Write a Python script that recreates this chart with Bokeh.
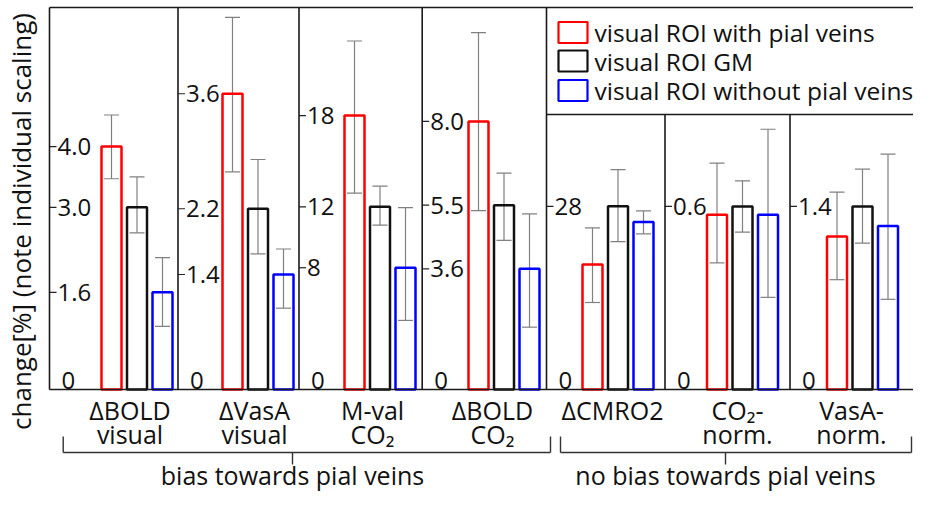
import numpy as np
from bokeh.plotting import figure
from bokeh.models import Range1d, ColumnDataSource
from bokeh.core.properties import value
from bokeh.embed import file_html
from bokeh.resources import INLINE

# ---------------- data ----------------
categories = ["ΔBOLD\nvisual", "ΔVasA\nvisual", "M-val\nCO₂", "ΔBOLD\nCO₂",
              "ΔCMRO2", "CO₂-\nnorm.", "VasA-\nnorm."]
group_labels = ["bias towards pial veins", "no bias towards pial veins"]
series_names = ["visual ROI with pial veins", "visual ROI GM", "visual ROI without pial veins"]

red_vals = [4.0, 3.6, 18.0, 8.0, 19.1, 0.573, 1.17]
black_vals = [3.0, 2.2, 12.0, 5.5, 28.0, 0.600, 1.40]
blue_vals = [1.6, 1.4, 8.0, 3.6, 25.6, 0.573, 1.25]

red_hi = [4.52, 4.53, 22.9, 10.65, 24.7, 0.742, 1.51]
red_lo = [3.47, 2.65, 12.9, 5.34, 13.3, 0.415, 0.84]
black_hi = [3.50, 2.80, 13.36, 6.46, 33.6, 0.684, 1.686]
black_lo = [2.58, 1.65, 10.8, 4.45, 22.6, 0.516, 1.12]
blue_hi = [2.17, 1.71, 11.95, 5.24, 27.3, 0.853, 1.80]
blue_lo = [1.04, 0.99, 4.54, 1.86, 23.8, 0.302, 0.69]

tick_values = [[1.6, 3.0, 4.0], [1.4, 2.2, 3.6], [8, 12, 18], [3.6, 5.5, 8.0], [28], [0.6], [1.4]]
tick_labels = [["1.6", "3.0", "4.0"], ["1.4", "2.2", "3.6"], ["8", "12", "18"],
               ["3.6", "5.5", "8.0"], ["28"], ["0.6"], ["1.4"]]
axis_top = [6.29, 4.65, 25.1, 11.4, 58.4, 1.252, 2.922]   # value at the top frame line

# ---------------- layout (picture pixel coordinates) ----------------
W, H = 913, 491
ZERO_Y, TOP_Y, LEG_Y = 389, 7, 114
RIGHT = W
panel_left = [49, 177.5, 298.5, 421.7, 546, 664.5, 789.5]
first_bar = [111, 232, 354, 478, 592, 716.5, 836.5]
label_x = [129.5, 254, 372, 492, 612, 737, 851]
BAR_STEP, BAR_HALF, CAP_HALF = 25.5, 10, 7.5
colors = ["#ff0000", "#111111", "#0000ff"]
FONT = value("Open Sans")
TXT = "#111111"

p = figure(width=W, height=H, x_range=Range1d(0, W), y_range=Range1d(H, 0),
           output_backend="svg", toolbar_location=None, min_border=0,
           x_axis_location=None, y_axis_location=None)
p.grid.visible = False
p.outline_line_color = None
p.background_fill_color = "white"

vals = [red_vals, black_vals, blue_vals]
his = [red_hi, black_hi, blue_hi]
los = [red_lo, black_lo, blue_lo]

for i in range(len(categories)):
    name = f"p{i}"
    k = (ZERO_Y - TOP_Y) / axis_top[i]
    p.extra_y_ranges[name] = Range1d(start=(ZERO_Y - H) / k, end=ZERO_Y / k)
    xs = np.array([first_bar[i] + j * BAR_STEP for j in range(3)])
    src = ColumnDataSource(dict(
        x=xs, left=xs - BAR_HALF, right=xs + BAR_HALF, cl=xs - CAP_HALF, cr=xs + CAP_HALF,
        top=[v[i] for v in vals], hi=[h[i] for h in his], lo=[l[i] for l in los], color=colors))
    # error bars
    p.segment(x0="x", y0="lo", x1="x", y1="hi", source=src, line_color="#808080",
              line_width=1.2, y_range_name=name)
    p.segment(x0="cl", y0="hi", x1="cr", y1="hi", source=src, line_color="#808080",
              line_width=1.2, y_range_name=name)
    p.segment(x0="cl", y0="lo", x1="cr", y1="lo", source=src, line_color="#808080",
              line_width=1.2, y_range_name=name)
    # bars
    p.quad(left="left", right="right", bottom=0, top="top", source=src, fill_color=None,
           line_color="color", line_width=2.5, y_range_name=name)
    # ticks + labels
    tv = tick_values[i]
    d = panel_left[i]
    p.segment(x0=[d] * len(tv), y0=tv, x1=[d + 7] * len(tv), y1=tv, line_color="#222222",
              line_width=1.2, y_range_name=name)
    p.text(x=[d + 8] * len(tv), y=tv, text=tick_labels[i], text_font=FONT,
           text_font_size="24px", text_baseline="middle", text_align="left",
           text_color=TXT, y_range_name=name)
    p.text(x=[d + 12], y=[0], text=["0"], text_font=FONT, text_font_size="24px",
           text_baseline="middle", text_align="left", text_color=TXT,
           y_offset=-9, y_range_name=name)

# frame lines
fx0 = [49, 49, 546, 49, 177.5, 298.5, 421.7, 546, 664.5, 789.5]
fy0 = [TOP_Y, ZERO_Y, LEG_Y, TOP_Y, TOP_Y, TOP_Y, TOP_Y, TOP_Y, LEG_Y, LEG_Y]
fx1 = [RIGHT, RIGHT, RIGHT, 49, 177.5, 298.5, 421.7, 546, 664.5, 789.5]
fy1 = [TOP_Y, ZERO_Y, LEG_Y, ZERO_Y, ZERO_Y, ZERO_Y, ZERO_Y, ZERO_Y, ZERO_Y, ZERO_Y]
p.segment(x0=fx0, y0=fy0, x1=fx1, y1=fy1, line_color="#1a1a1a", line_width=1.6)

# legend
leg_y = [32, 60.5, 90]
p.quad(left=[558] * 3, right=[587] * 3, top=[y - 10.5 for y in leg_y],
       bottom=[y + 10.5 for y in leg_y], fill_color=None, line_color=colors, line_width=2.2)
p.text(x=[594] * 3, y=leg_y, text=series_names, text_font=FONT, text_font_size="24.5px",
       text_baseline="middle", text_align="left", text_color=TXT)

# category labels
line1 = [c.split("\n")[0] for c in categories]
line2 = [c.split("\n")[1] if "\n" in c else "" for c in categories]
p.text(x=label_x, y=[409] * 7, text=line1, text_font=FONT, text_font_size="25px",
       text_baseline="middle", text_align="center", text_color=TXT)
p.text(x=label_x, y=[433] * 7, text=line2, text_font=FONT, text_font_size="25px",
       text_baseline="middle", text_align="center", text_color=TXT)

# group brackets
bl = [62.7, 560]
br = [550, 911]
bc = [292, 725]
BT, BH, BB = 436, 452, 464
p.segment(x0=bl + br + bl + bc, y0=[BT] * 4 + [BH] * 2 + [BH] * 2,
          x1=bl + br + br + bc, y1=[BH] * 4 + [BH] * 2 + [BB] * 2,
          line_color="#333333", line_width=1.4)
p.text(x=bc, y=[474, 474], text=group_labels, text_font=FONT, text_font_size="25px",
       text_baseline="middle", text_align="center", text_color=TXT)

# y axis label
p.text(x=[20], y=[221], text=["change[%] (note individual scaling)"], text_font=FONT,
       text_font_size="26px", text_baseline="middle", text_align="center",
       text_color=TXT, angle=np.pi / 2)

open("out.html", "w").write(file_html(p, INLINE))
